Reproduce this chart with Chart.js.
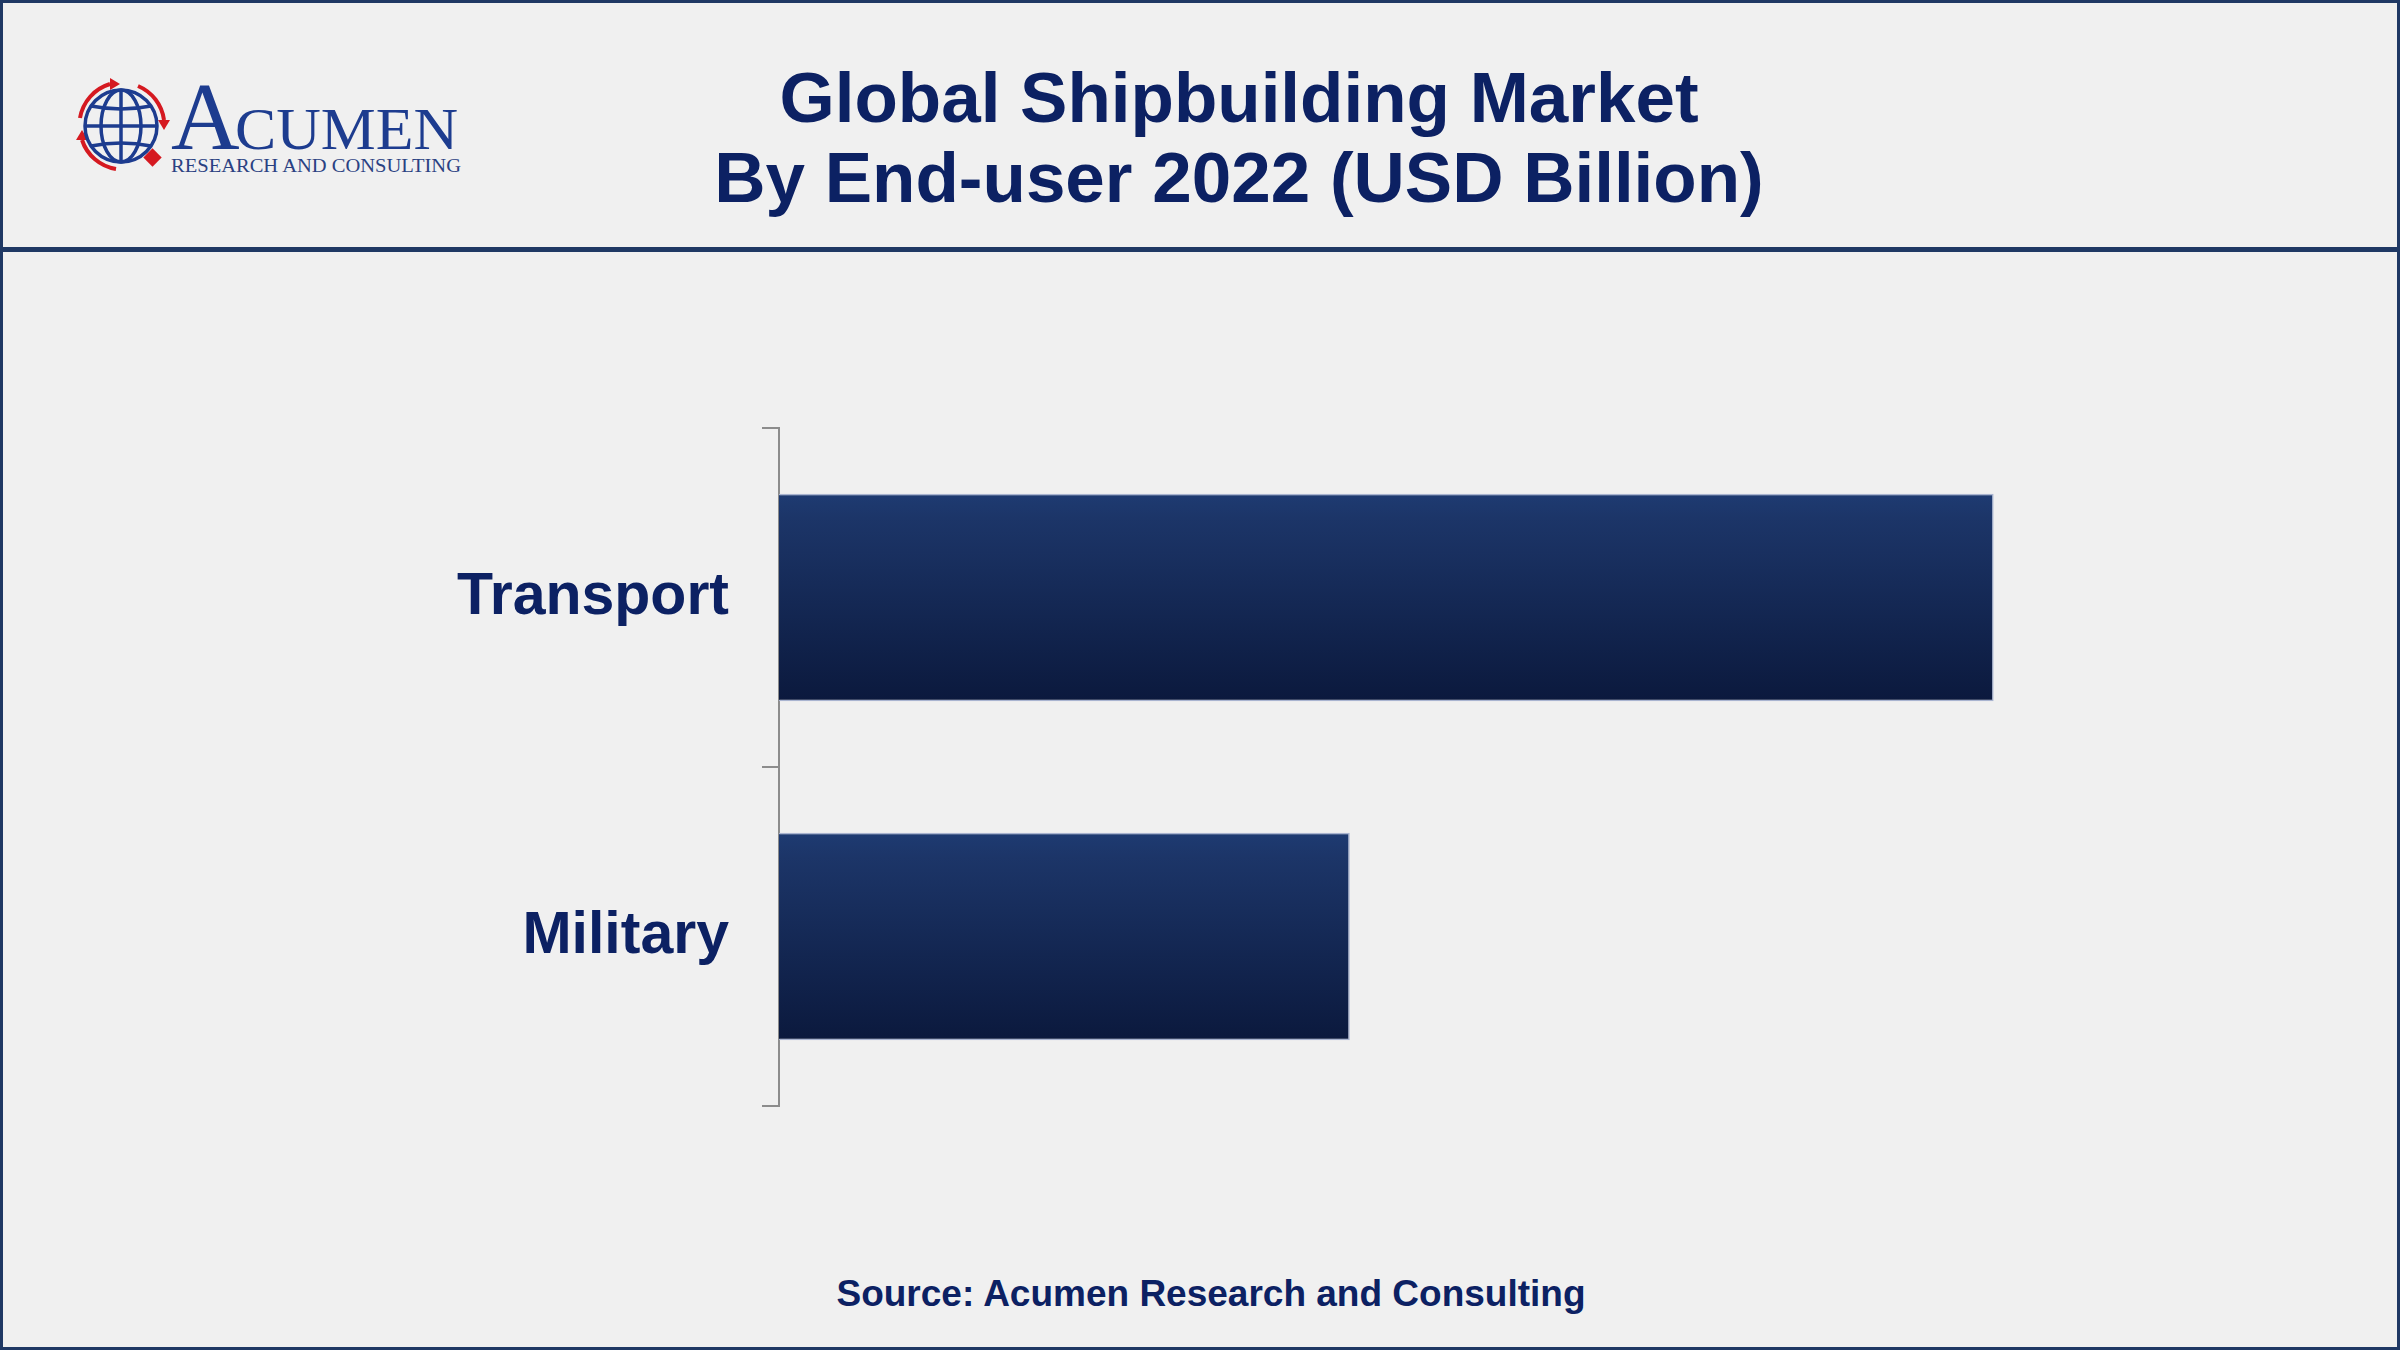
<!DOCTYPE html>
<html>
<head>
<meta charset="utf-8">
<script src="https://cdn.jsdelivr.net/npm/chart.js@4"></script>
<style>
  html, body { margin: 0; padding: 0; }
  body { width: 2400px; height: 1350px; background: #f0f0f0; position: relative; overflow: hidden;
         font-family: "Liberation Sans", Arial, sans-serif; }
  #frame { position: absolute; left: 0; top: 0; width: 2394px; height: 1344px; border: 3px solid #1f3864; }
  #rule { position: absolute; left: 0; top: 247px; width: 2400px; height: 5px; background: #1f3864; }
  #title { position: absolute; left: 1239px; top: 58px; transform: translateX(-50%); white-space: nowrap;
           text-align: center; font-weight: bold; font-size: 71px; line-height: 80px; color: #0c2163; }
  #source { position: absolute; left: 1211px; top: 1272px; transform: translateX(-50%); white-space: nowrap;
            font-weight: bold; font-size: 37px; line-height: 44px; color: #0c2163; }
  #box { position: absolute; left: 0; top: 418px; width: 2400px; height: 698px; }
</style>
</head>
<body>
<div id="frame"></div>
<div id="rule"></div>

<svg width="520" height="240" style="position:absolute;left:0;top:0">
  <!-- red arrows round the globe -->
  <g fill="none" stroke="#d51920" stroke-width="4">
    <path d="M 80 118 A 43 43 0 0 1 110 84"/>
    <path d="M 138 86 A 43 43 0 0 1 164 120"/>
    <path d="M 116 169 A 43 43 0 0 1 82 140"/>
  </g>
  <g fill="#d51920">
    <polygon points="110,78 120,84 110,90"/>
    <polygon points="158,120 170,120 164,130"/>
    <polygon points="76,140 88,140 82,130"/>
  </g>
  <!-- globe -->
  <g fill="none" stroke="#1d3c8f" stroke-width="3.5">
    <circle cx="121" cy="126" r="36"/>
    <ellipse cx="121" cy="126" rx="20" ry="36"/>
    <line x1="121" y1="90" x2="121" y2="162"/>
    <line x1="85" y1="126" x2="157" y2="126"/>
    <path d="M 91 106 Q 121 112 151 106"/>
    <path d="M 91 146 Q 121 140 151 146"/>
  </g>
  <rect x="146" y="151" width="13" height="13" fill="#d51920" transform="rotate(45 152.5 157.5)"/>
  <!-- wordmark -->
  <text x="171" y="149" font-family="Liberation Serif, Times New Roman, serif" font-size="95" fill="#1d3c8f">A</text>
  <text x="235" y="149" font-family="Liberation Serif, Times New Roman, serif" font-size="60" fill="#1d3c8f"
        textLength="223" lengthAdjust="spacingAndGlyphs">CUMEN</text>
  <text x="171" y="172" font-family="Liberation Serif, Times New Roman, serif" font-size="19" fill="#2a4182"
        textLength="290" lengthAdjust="spacingAndGlyphs">RESEARCH AND CONSULTING</text>
</svg>

<div id="title">Global Shipbuilding Market<br>By End-user 2022 (USD Billion)</div>

<div id="box"><canvas id="chart"></canvas></div>

<div id="source">Source: Acumen Research and Consulting</div>

<script>
var categories = ['Transport', 'Military'];
var marketValues = [96.4, 45.3];
var barPct = 0.612;

function barFill(context) {
    var chart = context.chart;
    var area = chart.chartArea;
    if (!area || context.type !== 'data') {
        return '#15295a';
    }
    var cy = chart.scales.y.getPixelForValue(context.dataIndex);
    var half = (area.height / categories.length) * barPct / 2;
    var g = chart.ctx.createLinearGradient(0, cy - half, 0, cy + half);
    g.addColorStop(0, '#1e3b72');
    g.addColorStop(0.12, '#1c3568');
    g.addColorStop(1, '#0b193d');
    return g;
}

var ctx = document.getElementById('chart').getContext('2d');
var chart = new Chart(ctx, {
    type: 'bar',
    data: {
        labels: categories,
        datasets: [{
            label: 'Market size',
            data: marketValues,
            backgroundColor: barFill,
            borderColor: '#a9b4d0',
            borderWidth: 1.5,
            barPercentage: barPct,
            categoryPercentage: 1
        }]
    },
    options: {
        indexAxis: 'y',
        responsive: true,
        maintainAspectRatio: false,
        animation: false,
        layout: { padding: { top: 10, bottom: 10, left: 0, right: 361 } },
        plugins: {
            legend: { display: false },
            tooltip: { enabled: false }
        },
        scales: {
            x: {
                display: false,
                min: 0,
                max: 100
            },
            y: {
                afterFit: function (scale) {
                    scale.width = 779;
                    scale.paddingTop = 0;
                    scale.paddingBottom = 0;
                },
                border: { display: true, color: '#8c8c8c', width: 2 },
                grid: {
                    drawOnChartArea: false,
                    drawTicks: true,
                    tickLength: 17,
                    color: '#8c8c8c',
                    lineWidth: 2
                },
                ticks: {
                    padding: 33,
                    color: '#0c2163',
                    font: { family: '"Liberation Sans", Arial, sans-serif', size: 59, weight: 'bold' }
                }
            }
        }
    }
});
</script>
</body>
</html>
